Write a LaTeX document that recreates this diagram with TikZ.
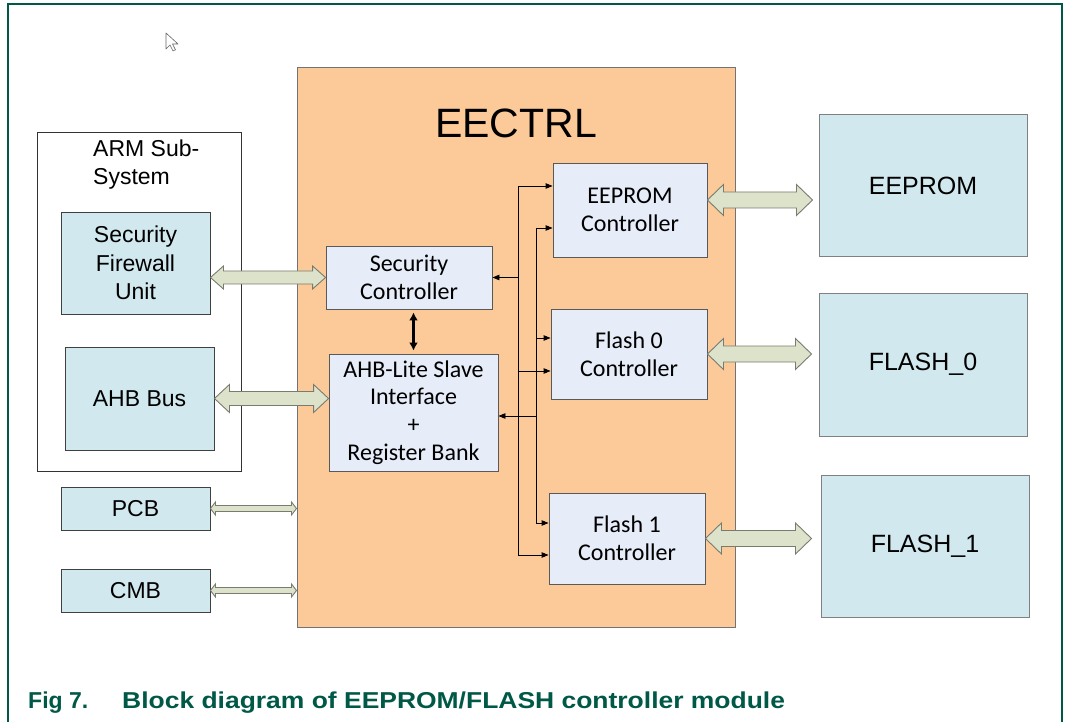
\documentclass[tikz,border=0pt]{standalone}
\usepackage{fontspec}
\setmainfont{Liberation Sans}
\newfontfamily\calibri{Carlito}
\usepackage{graphicx}
\usetikzlibrary{arrows.meta,calc}

\definecolor{framegreen}{RGB}{0,88,70}
\definecolor{ctrlpeach}{RGB}{252,202,152}
\definecolor{hostblue}{RGB}{208,232,238}
\definecolor{ctrlblue}{RGB}{230,236,248}
\definecolor{busfill}{RGB}{221,226,203}
\definecolor{busedge}{RGB}{120,124,112}

% wide double arrow: start, end, shaft half, head half, head length
\newcommand{\fatbus}[5]{%
  \draw[busline] let \p1=(#1), \p2=(#2) in
    (\x1,\y1) -- (\x1+#5,\y1+#4) -- (\x1+#5,\y1+#3) -- (\x2-#5,\y1+#3)
    -- (\x2-#5,\y1+#4) -- (\x2,\y1) -- (\x2-#5,\y1-#4) -- (\x2-#5,\y1-#3)
    -- (\x1+#5,\y1-#3) -- (\x1+#5,\y1-#4) -- cycle;}

\begin{document}
\begin{tikzpicture}[x=1pt,y=-1pt,
  hostbox/.style={draw=black!75, fill=hostblue, line width=0.9pt, inner sep=0pt, align=center, font=\fontsize{23}{28.3}\selectfont},
  membox/.style={draw=black!50, fill=hostblue, line width=1pt, inner sep=0pt, font=\fontsize{25}{30}\selectfont},
  ctrlbox/.style={draw=black!65, fill=ctrlblue, line width=0.9pt, inner sep=0pt, align=center, font=\calibri\fontsize{24}{27.7}\selectfont},
  busline/.style={draw=busedge, fill=busfill, line width=0.9pt, line join=miter},
  wireline/.style={line width=0.9pt},
  wire/.style={line width=0.9pt, -{Triangle[length=7pt,width=5.5pt]}}]
\useasboundingbox (0,0) rectangle (1066,722);
\draw[framegreen, line width=1.3pt] (8,722) -- (8,4) -- (1062,4) -- (1062,722);
\draw[fill=white, draw=black!60, line width=0.6pt, line join=round] (166,33) -- ++(0,16) -- ++(4,-4) -- ++(3,6) -- ++(2.5,-1.2) -- ++(-3,-5.8) -- ++(5.5,0) -- cycle;

% ARM side
\node[draw=black!80, fill=white, line width=0.9pt, minimum width=204pt, minimum height=339pt] (arm) at (139,301.5) {};
\node[anchor=north west, inner sep=0pt, align=left, font=\fontsize{23}{28}\selectfont] (armlbl) at (93,140) {ARM Sub-\\System};
\node[hostbox, minimum width=149pt, minimum height=102pt] (sfu) at (135.5,263) {Security\\Firewall\\Unit};
\node[hostbox, minimum width=149pt, minimum height=103pt] (ahbbus) at (139.5,398.5) {AHB Bus};
\node[hostbox, minimum width=149pt, minimum height=43pt] (pcb) at (135.5,508.5) {PCB};
\node[hostbox, minimum width=149pt, minimum height=43pt] (cmb) at (135.5,590.5) {CMB};

% EECTRL
\node[draw=black!55, fill=ctrlpeach, line width=1pt, minimum width=438pt, minimum height=559pt] (eectrl) at (516,347.5) {};
\node[font=\fontsize{41}{44}\selectfont] (title) at (516,123) {EECTRL};
\node[ctrlbox, minimum width=166pt, minimum height=63pt] (secctl) at (409,277.5) {Security\\Controller};
\node[ctrlbox, minimum width=169pt, minimum height=117pt] (ahblite) at (413.5,412.5) {AHB-Lite Slave\\Interface\\+\\Register Bank};
\node[ctrlbox, minimum width=154pt, minimum height=94pt] (eepctl) at (630,210) {EEPROM\\Controller};
\node[ctrlbox, minimum width=156pt, minimum height=90pt] (f0ctl) at (629,354) {Flash 0\\Controller};
\node[ctrlbox, minimum width=156pt, minimum height=91pt] (f1ctl) at (627,538.5) {Flash 1\\Controller};

% memories
\node[membox, minimum width=208pt, minimum height=142pt] (eeprom) at (923,186) {EEPROM};
\node[membox, minimum width=208pt, minimum height=143pt] (flash0) at (923,364.5) {FLASH\_0};
\node[membox, minimum width=208pt, minimum height=142pt] (flash1) at (925,546) {FLASH\_1};

% wide buses
\coordinate (eepbus) at ([yshift=10pt]eepctl.east);
\fatbus{sfu.east |- secctl.west}{secctl.west}{6.5pt}{11.5pt}{13pt}
\fatbus{ahbbus.east}{ahbbus.east -| ahblite.west}{7pt}{14pt}{15pt}
\fatbus{pcb.east}{pcb.east -| eectrl.west}{3pt}{6.5pt}{5pt}
\fatbus{cmb.east}{cmb.east -| eectrl.west}{3pt}{6.5pt}{5pt}
\fatbus{eepbus}{[xshift=-6pt]eeprom.west}{8pt}{15.5pt}{16pt}
\fatbus{f0ctl.east}{[xshift=-7pt]flash0.west}{8pt}{15.5pt}{16pt}
\fatbus{f1ctl.east}{[xshift=-9pt]flash1.west}{8pt}{15.5pt}{16pt}

\draw[line width=2.4pt, {Latex[length=8pt,width=9pt]}-{Latex[length=8pt,width=9pt]}, shorten <=3pt, shorten >=3pt] (ahblite.north |- secctl.south) -- (ahblite.north);

% internal bus
\coordinate (busa) at (518,0);
\coordinate (busb) at (536,0);
\coordinate (eepa) at ([yshift=24pt]eepctl.west);
\coordinate (eepb) at ([yshift=-18pt]eepctl.west);
\coordinate (f0a) at ([yshift=-17pt]f0ctl.west);
\coordinate (f0b) at ([yshift=16pt]f0ctl.west);
\coordinate (f1a) at ([yshift=-16.5pt]f1ctl.west);
\coordinate (f1b) at ([yshift=15.5pt]f1ctl.west);
\coordinate (rega) at ([yshift=-3.5pt]ahblite.east);
\draw[wireline] (eepa -| busa) -- (f1a -| busa);
\draw[wireline] (eepb -| busb) -- (f1b -| busb);
\foreach \t in {eepa,f0a,f1a} \draw[wire] (\t -| busa) -- (\t);
\foreach \t in {eepb,f0b,f1b} \draw[wire] (\t -| busb) -- (\t);
\draw[wire] (secctl.east -| busa) -- (secctl.east);
\draw[wire] (rega -| busb) -- (rega);

\node[anchor=base west, inner sep=0pt, text=framegreen, font=\bfseries\fontsize{23}{26}\selectfont] (caption) at (28,708) {\makebox[94pt][l]{Fig 7.}\scalebox{1.15}[1]{Block diagram of EEPROM/FLASH controller module}};
\end{tikzpicture}
\end{document}
